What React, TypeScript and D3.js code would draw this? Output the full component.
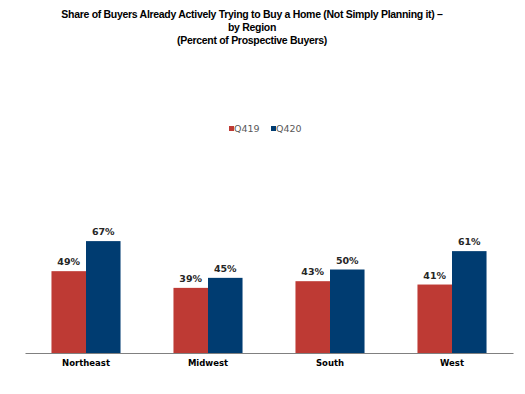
import React, { useEffect, useRef } from 'react';
import * as d3 from 'd3';

const regions = ['Northeast', 'Midwest', 'South', 'West'];
const seriesNames = ['Q419', 'Q420'];
const q419 = [49, 39, 43, 41];
const q420 = [67, 45, 50, 61];
const titleLines = [
  'Share of Buyers Already Actively Trying to Buy a Home (Not Simply Planning it) \u2013',
  'by Region',
  '(Percent of Prospective Buyers)',
];

const colors = ['#BE3A34', '#003C71'];

const App: React.FC = () => {
  const svgRef = useRef<SVGSVGElement>(null);
  const width = 525;
  const height = 394;

  useEffect(() => {
    if (!svgRef.current) return;
    const svg = d3.select(svgRef.current);
    svg.selectAll('*').remove();

    // Title
    svg
      .append('g')
      .selectAll('text')
      .data(titleLines)
      .enter()
      .append('text')
      .attr('x', 252)
      .attr('y', (_d, i) => 18 + i * 13)
      .attr('text-anchor', 'middle')
      .attr('font-family', '"Liberation Sans", Arial, sans-serif')
      .attr('font-weight', 'bold')
      .attr('font-size', 10.5)
      .attr('letter-spacing', -0.3)
      .attr('fill', '#000')
      .text((d) => d);

    const baseline = 353;
    const x0 = d3
      .scaleBand<string>()
      .domain(regions)
      .range([25, 513])
      .paddingInner(0.434)
      .paddingOuter(0.217);
    const x1 = d3
      .scaleBand<string>()
      .domain(seriesNames)
      .range([0, x0.bandwidth()]);
    const y = d3.scaleLinear().domain([0, 100]).range([baseline, 186]);

    const rows = regions.map((r, i) => ({ region: r, values: [q419[i], q420[i]] }));

    const groups = svg
      .append('g')
      .selectAll('g')
      .data(rows)
      .enter()
      .append('g')
      .attr('transform', (d) => `translate(${x0(d.region)},0)`);

    groups
      .selectAll('rect')
      .data((d) => d.values.map((v, j) => ({ key: seriesNames[j], v, j })))
      .enter()
      .append('rect')
      .attr('x', (d) => x1(d.key) as number)
      .attr('width', x1.bandwidth())
      .attr('y', (d) => y(d.v))
      .attr('height', (d) => baseline - y(d.v))
      .attr('fill', (d) => colors[d.j]);

    groups
      .selectAll('text')
      .data((d) => d.values.map((v, j) => ({ key: seriesNames[j], v, j })))
      .enter()
      .append('text')
      .attr('x', (d) => (x1(d.key) as number) + x1.bandwidth() / 2)
      .attr('y', (d) => y(d.v) - 6)
      .attr('text-anchor', 'middle')
      .attr('font-family', '"DejaVu Sans", Verdana, sans-serif')
      .attr('font-weight', 'bold')
      .attr('font-size', 9.5)
      .attr('fill', '#262626')
      .text((d) => `${d.v}%`);

    // Axis
    const axis = svg
      .append('g')
      .attr('transform', `translate(0,${baseline})`)
      .call(d3.axisBottom(x0).tickSize(0).tickSizeOuter(0).tickPadding(7));
    axis.select('.domain').attr('stroke', '#808080').attr('stroke-width', 1.2);
    axis
      .selectAll('text')
      .attr('font-family', '"DejaVu Sans", Verdana, sans-serif')
      .attr('font-weight', 'bold')
      .attr('font-size', 8.5)
      .attr('fill', '#000');

    // Legend
    const legend = svg.append('g');
    const legendX = [229, 271];
    seriesNames.forEach((name, i) => {
      legend
        .append('rect')
        .attr('x', legendX[i])
        .attr('y', 126)
        .attr('width', 5)
        .attr('height', 5)
        .attr('fill', colors[i]);
      legend
        .append('text')
        .attr('x', legendX[i] + 5)
        .attr('y', 132)
        .attr('font-family', '"DejaVu Sans", Verdana, sans-serif')
        .attr('font-size', 9.5)
        .attr('fill', '#595959')
        .text(name);
    });
  }, []);

  return (
    <svg
      ref={svgRef}
      width={width}
      height={height}
      style={{ position: 'absolute', left: 0, top: 0, background: '#fff' }}
    />
  );
};

export default App;
